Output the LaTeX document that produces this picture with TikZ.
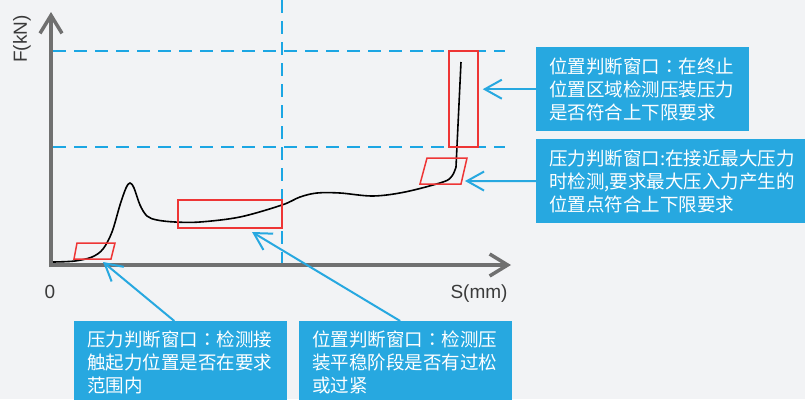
\documentclass[tikz,border=0pt]{standalone}
\usepackage{fontspec}
\setmainfont{Liberation Sans}
\newfontfamily\cjk{Noto Sans CJK SC}
\newfontfamily\cjktc{Noto Sans CJK TC}
\newcommand{\fwcolon}{{\cjktc ：}}
\usetikzlibrary{arrows.meta,calc}
\definecolor{bg}{HTML}{F2F3F5}
\definecolor{bluebox}{HTML}{27A8E0}
\definecolor{dashc}{HTML}{1CA6E3}
\definecolor{redw}{HTML}{EE3535}
\definecolor{axisc}{HTML}{707070}
\definecolor{lbl}{HTML}{3A3A3A}
\begin{document}
\begin{tikzpicture}[x=1pt,y=-1pt,
  dashline/.style={draw=dashc,line width=1.8pt,dash pattern=on 13pt off 8pt},
  axisline/.style={draw=axisc,line width=3.5pt,-{Straight Barb[length=18pt,width=22pt]}},
  curveline/.style={draw=black,line width=1.6pt},
  redwin/.style={draw=redw,line width=1.5pt},
  redbox/.style={draw=redw,line width=1.5pt,rectangle,inner sep=0pt},
  infobox/.style={fill=bluebox,text=white,rectangle,anchor=north west,align=left,
    inner xsep=13pt,inner ysep=0pt,font=\cjk\fontsize{18.5pt}{23pt}\selectfont},
  conn/.style={draw=bluebox,line width=2pt,-{Straight Barb[length=17pt,width=19pt]}},
  axlabel/.style={text=lbl,font=\fontsize{19pt}{22pt}\selectfont,inner sep=0pt}]
\fill[bg] (0,0) rectangle (805,399);
\useasboundingbox (0,0) rectangle (805,399);
% dashed guide lines
\draw[dashline] (53,51) -- (505,51);
\draw[dashline] (53,147) -- (505,147);
\draw[dashline] (282,0) -- (282,263);
% axes
\draw[axisline] (51,267) -- (51,12);
\draw[axisline] (49,265) -- (511,265);
\node[axlabel,rotate=90] (fy) at (22,39) {F(kN)};
\node[axlabel] (zero) at (50,292) {0};
\node[axlabel] (sx) at (479,294) {S(mm)};
% curve
\draw[curveline] plot[smooth,tension=0.55] coordinates {(53,262) (75,261) (92,257) (103,249) (112,232) (120,205) (126,188) (130,183) (134,188) (140,205) (147,216) (157,220) (175,222) (200,222) (240,217) (282,205) (300,197) (317,193) (340,193) (373,196) (405,192) (443,182) (452,176) (456,167)} -- (461,62);
% red windows
\draw[redwin] (77,243) -- (115,243) -- (111,259) -- (74,259) -- cycle;
\node[redbox,minimum width=104pt,minimum height=28pt] (win2) at (230,214) {};
\node[redbox,minimum width=29pt,minimum height=96pt] (win3) at (463.5,99) {};
\draw[redwin] (427,158) -- (467,158) -- (461,184) -- (420,184) -- cycle;
\coordinate (tB) at (465,181);
\coordinate (tC) at (103,262);
\coordinate (tD) at (252,232);
% info boxes
\node[infobox,text width=187pt,minimum height=84pt] (bA) at (536,47)
  {位置判断窗口\fwcolon 在终止\\位置区域检测压装压力\\是否符合上下限要求};
\node[infobox,text width=256pt,minimum height=84pt] (bB) at (536,139)
  {压力判断窗口:在接近最大压力\\时检测,要求最大压入力产生的\\位置点符合上下限要求};
\node[infobox,text width=187pt,minimum height=82pt] (bC) at (74,321)
  {压力判断窗口\fwcolon 检测接\\触起力位置是否在要求\\范围内};
\node[infobox,text width=187pt,minimum height=82pt] (bD) at (299,321)
  {位置判断窗口\fwcolon 检测压\\装平稳阶段是否有过松\\或过紧};
% connectors
\draw[conn,shorten >=4pt] (bA.west) -- (bA.west -| win3.east);
\draw[conn] (bB.west) -- (tB);
\draw[conn] ($(bC.north west)!0.47!(bC.north east)$) -- (tC);
\draw[conn] ($(bD.north west)!0.474!(bD.north east)$) -- (tD);
\end{tikzpicture}
\end{document}
